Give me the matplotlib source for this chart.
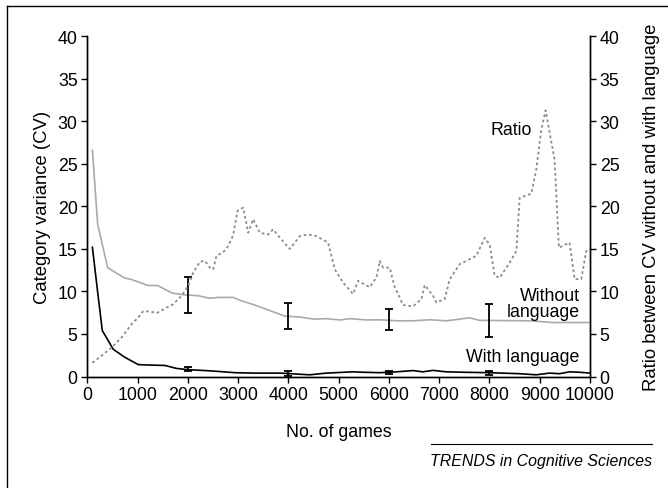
import matplotlib
matplotlib.use("Agg")
import matplotlib.pyplot as plt
from matplotlib.lines import Line2D

plt.rcParams['font.family'] = ['Liberation Sans', 'DejaVu Sans']

# ---- data ----
no_lang_x = [100, 205, 403, 735, 880, 1210, 1397, 1690, 1940, 2205, 2437, 2603, 2900, 3067, 3332,
             3564, 3928, 4227, 4491, 4757, 5022, 5221, 5553, 5817, 6150, 6480, 6811, 7143, 7607,
             7806, 8800, 9257, 10000]
no_lang_y = [26.6, 17.9, 12.8, 11.6, 11.4, 10.7, 10.7, 9.8, 9.6, 9.5, 9.2, 9.3, 9.3, 8.9, 8.4,
             7.9, 7.1, 7.0, 6.75, 6.8, 6.65, 6.8, 6.65, 6.67, 6.55, 6.55, 6.67, 6.55, 6.9,
             6.6, 6.55, 6.35, 6.35]

with_lang_x = [100, 205, 297, 515, 748, 1013, 1210, 1543, 1775, 2006, 2338, 2603, 2934, 3332,
               3829, 4425, 4757, 5286, 5485, 5817, 6150, 6480, 6672, 6877, 7143, 7474, 8005,
               8600, 8932, 9197, 9396, 9594, 9793, 10000]
with_lang_y = [15.2, 9.9, 5.4, 3.2, 2.25, 1.4, 1.35, 1.3, 0.95, 0.8, 0.7, 0.6, 0.45, 0.4,
               0.4, 0.2, 0.4, 0.55, 0.5, 0.45, 0.55, 0.7, 0.55, 0.72, 0.55, 0.5, 0.45,
               0.33, 0.2, 0.4, 0.33, 0.55, 0.5, 0.4]

ratio_x = [100, 283, 483, 682, 880, 1013, 1112, 1278, 1377, 1543, 1708, 1875, 2006, 2105, 2238,
           2338, 2437, 2503, 2570, 2702, 2801, 2900, 2988, 3100, 3200, 3298, 3431, 3597, 3696,
           3862, 4028, 4227, 4392, 4558, 4789, 4922, 5087, 5286, 5386, 5618, 5751, 5817, 5883,
           6016, 6115, 6215, 6280, 6480, 6646, 6712, 6877, 6944, 7110, 7209, 7408, 7607, 7740,
           7905, 8005, 8103, 8203, 8402, 8535, 8601, 8833, 8932, 9032, 9117, 9163, 9296, 9382,
           9594, 9694, 9827, 9926, 10000]
ratio_y = [1.6, 2.45, 3.4, 4.6, 6.15, 6.95, 7.7, 7.6, 7.45, 8.0, 8.5, 9.5, 10.65, 12.2, 13.5,
           13.6, 12.8, 12.6, 14.2, 14.6, 15.35, 16.6, 19.5, 19.85, 16.9, 18.5, 16.9, 16.7, 17.3,
           16.1, 15.0, 16.5, 16.7, 16.5, 15.75, 12.6, 11.05, 9.7, 11.25, 10.5, 11.65, 13.6, 12.8,
           12.8, 10.5, 9.3, 8.4, 8.25, 9.1, 10.75, 9.5, 8.7, 9.1, 11.45, 13.2, 13.8, 14.2,
           16.3, 15.5, 11.85, 11.6, 13.4, 14.75, 21.0, 21.5, 24.35, 29.05, 31.3, 29.8, 25.5, 15.15,
           15.75, 11.45, 11.45, 14.75, 15.0]

err_x = [2000, 4000, 6000, 8000]
no_lang_err_c = [9.55, 7.1, 6.7, 6.55]
no_lang_err = [2.1, 1.5, 1.2, 1.95]
with_lang_err_c = [0.85, 0.35, 0.5, 0.4]
with_lang_err = [0.25, 0.3, 0.2, 0.2]

x_ticks = [0, 1000, 2000, 3000, 4000, 5000, 6000, 7000, 8000, 9000, 10000]
y_ticks = [0, 5, 10, 15, 20, 25, 30, 35, 40]

FS = 12.8
LFS = 13.3

fig = plt.figure(figsize=(6.68, 4.89), dpi=100)
ax = fig.add_axes([0.1308, 0.228, 0.7524, 0.6957])
ax2 = ax.twinx()

ax.plot(no_lang_x, no_lang_y, color='#aaaaaa', lw=1.2, zorder=3)
ax.plot(with_lang_x, with_lang_y, color='black', lw=1.2, zorder=3)
ax2.plot(ratio_x, ratio_y, color='#8c8c8c', lw=1.3, linestyle=(0, (1.5, 1.5)), zorder=2)

ax.errorbar(err_x, no_lang_err_c, yerr=no_lang_err, fmt='none', ecolor='black',
            elinewidth=1.3, capsize=3, capthick=1.3, zorder=4)
ax.errorbar(err_x, with_lang_err_c, yerr=with_lang_err, fmt='none', ecolor='black',
            elinewidth=1.3, capsize=3, capthick=1.3, zorder=4)

for a in (ax, ax2):
    a.set_xlim(0, 10000)
    a.set_ylim(0, 40)
    a.set_yticks(y_ticks)
    a.spines['top'].set_visible(False)
    a.tick_params(direction='out', length=4, width=1, labelsize=FS, pad=3, colors='black')
ax.set_xticks(x_ticks)
for s in ('left', 'bottom', 'right'):
    ax.spines[s].set_linewidth(1.0)
    ax2.spines[s].set_linewidth(1.0)

ax.set_xlabel('No. of games', fontsize=FS, labelpad=14)
ax.set_ylabel('Category variance (CV)', fontsize=LFS, labelpad=5)
ax2.set_ylabel('Ratio between CV without and with language', fontsize=LFS, labelpad=17)

ax.text(8840, 29.0, 'Ratio', fontsize=FS, ha='right', va='center')
ax.text(9792, 8.6, 'Without\nlanguage', fontsize=FS, ha='right', va='center', linespacing=0.9)
ax.text(9792, 2.3, 'With language', fontsize=FS, ha='right', va='center')

# footer
fig.add_artist(Line2D([431/668, 652/668], [1-445/489, 1-445/489], color='black', lw=0.8))
fig.text(652/668, 1-462/489, 'TRENDS in Cognitive Sciences', fontsize=11.4, style='italic',
         ha='right', va='center')

# frame (top and left)
fig.add_artist(Line2D([7/668, 7/668], [0, 1-7/489], color='black', lw=1.0))
fig.add_artist(Line2D([7/668, 1], [1-7/489, 1-7/489], color='black', lw=1.0))

fig.savefig('out.png', dpi=100)
